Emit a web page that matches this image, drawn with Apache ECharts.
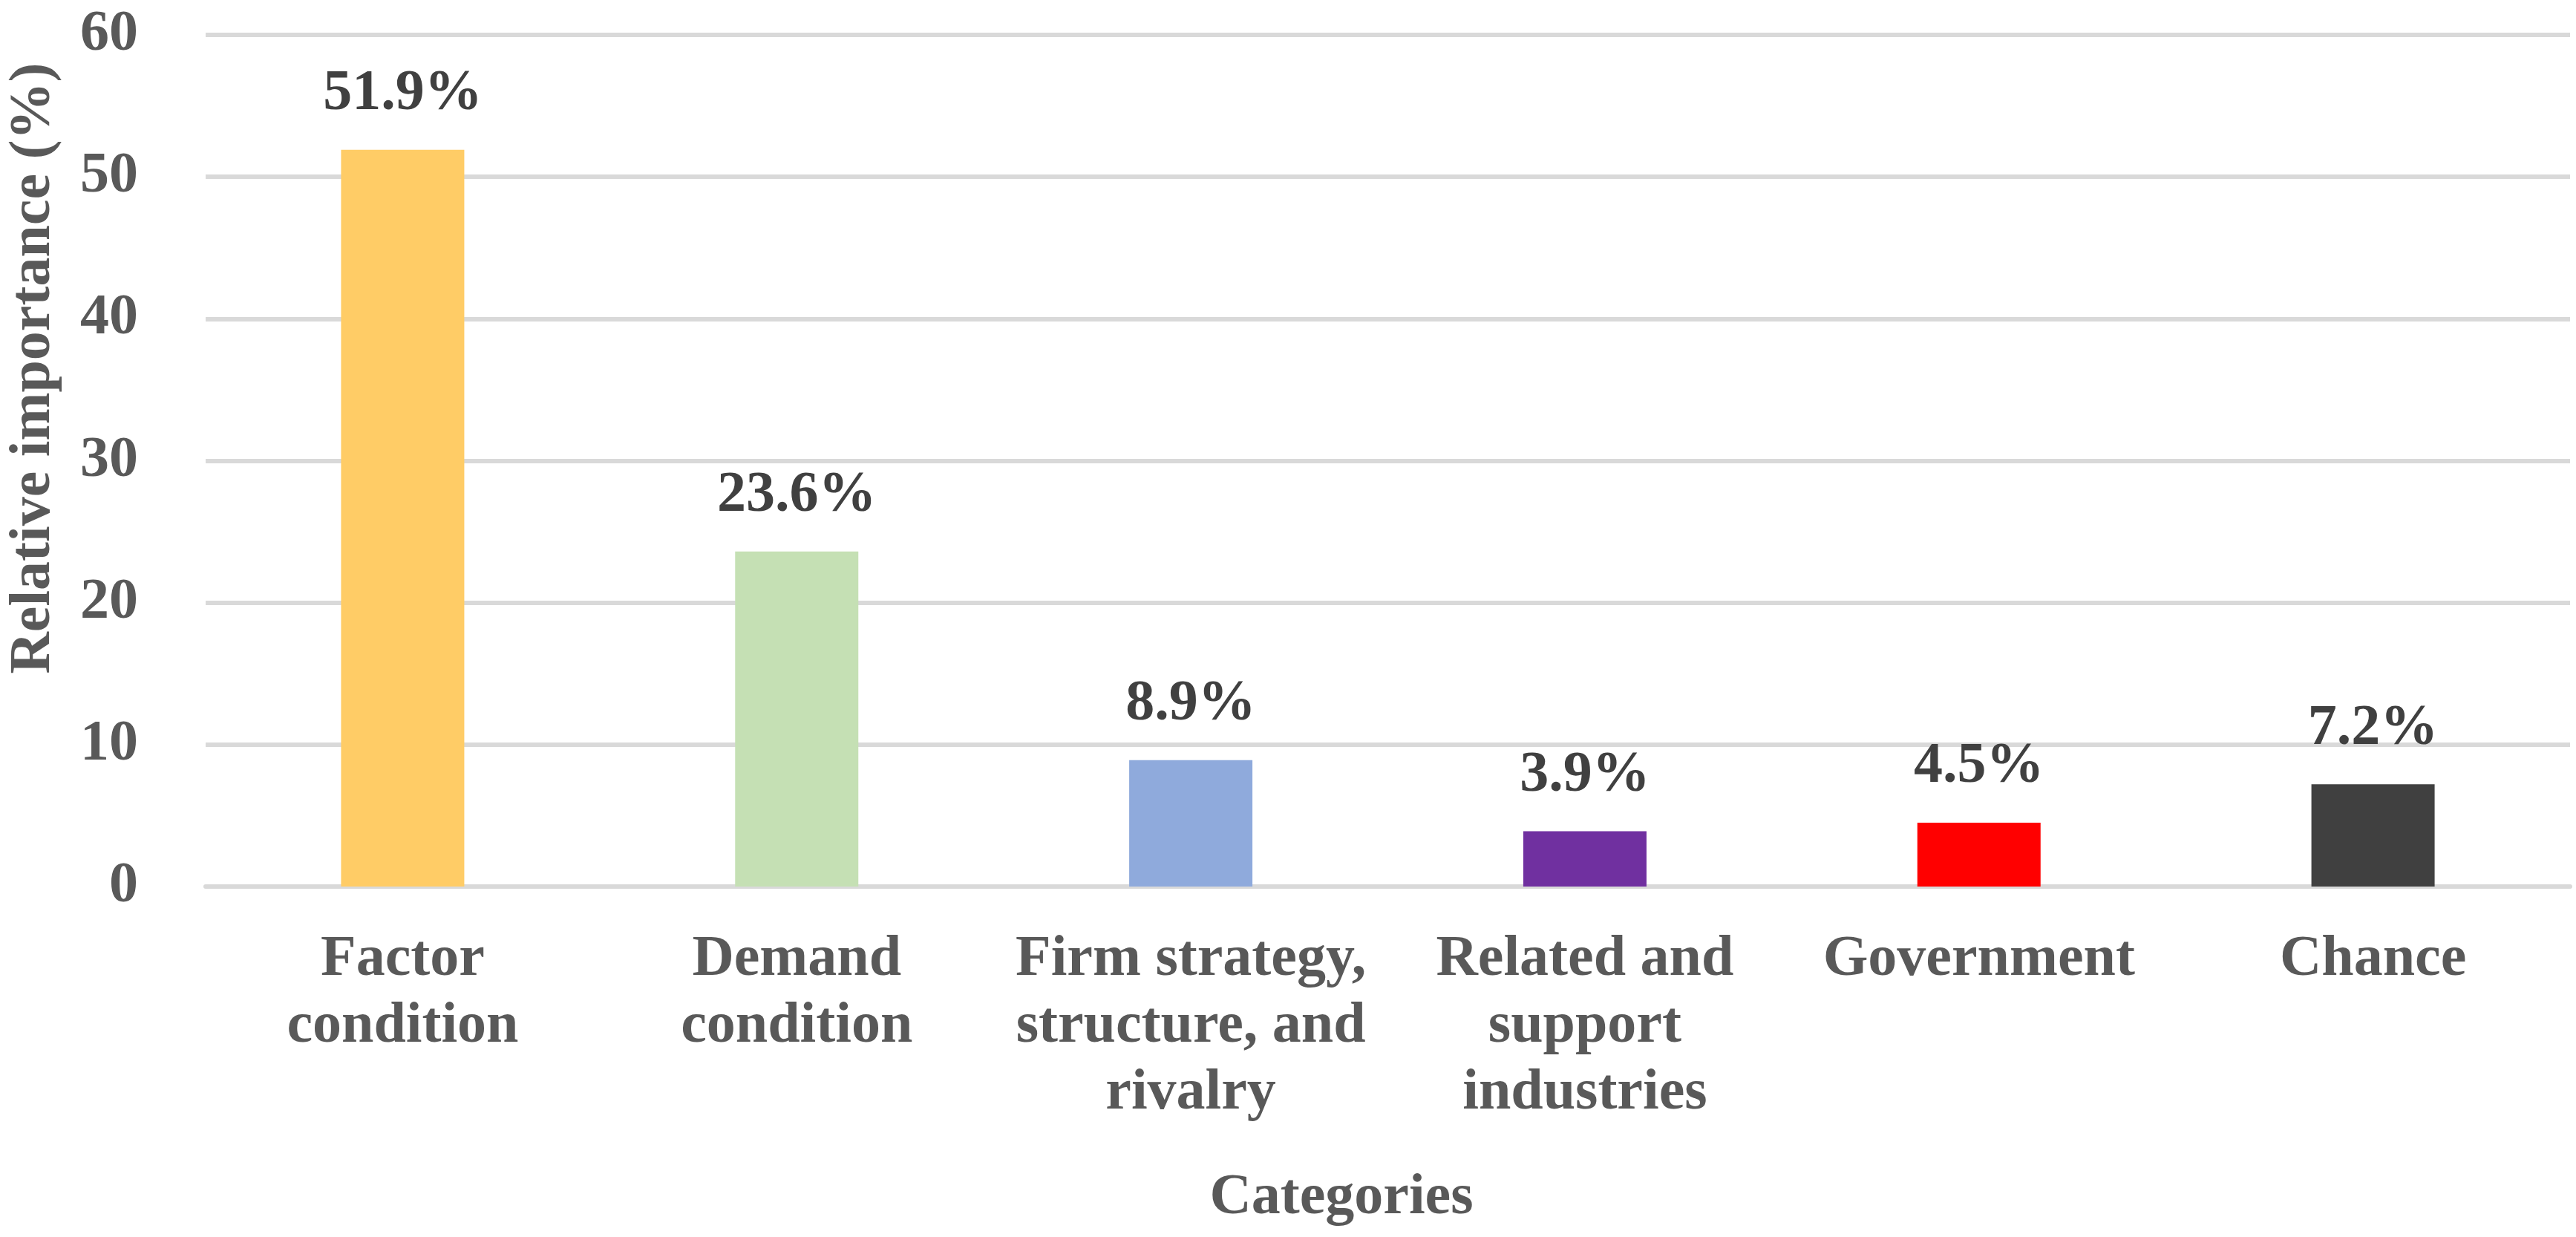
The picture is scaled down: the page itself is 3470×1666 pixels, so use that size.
<!DOCTYPE html>
<html>
<head>
<meta charset="utf-8">
<script src="https://cdn.jsdelivr.net/npm/echarts@6/dist/echarts.min.js"></script>
<style>
html,body{margin:0;padding:0;background:#fff;}
#c{width:3470px;height:1666px;}
</style>
</head>
<body>
<div id="c"></div>
<script>
const categories = ["Factor\ncondition", "Demand\ncondition", "Firm strategy,\nstructure, and\nrivalry", "Related and\nsupport\nindustries", "Government", "Chance"];
const values = [51.9, 23.6, 8.9, 3.9, 4.5, 7.2];
const barColors = ["#FFCC66", "#C5E0B4", "#8FAADC", "#7030A0", "#FF0000", "#404040"];
const yTicks = [0, 10, 20, 30, 40, 50, 60];
const yTitle = "Relative importance (%)";
const xTitle = "Categories";

const FONT = "'Liberation Serif', 'Times New Roman', serif";
const chart = echarts.init(document.getElementById('c'));
chart.setOption({
  animation: false,
  backgroundColor: '#ffffff',
  grid: { left: 277, right: 8, top: 47, bottom: 472, containLabel: false },
  xAxis: {
    type: 'category',
    data: categories,
    axisTick: { show: false },
    axisLine: { show: true, lineStyle: { color: '#D9D9D9', width: 6 } },
    axisLabel: {
      interval: 0, margin: 54,
      color: '#595959', fontFamily: FONT, fontWeight: 'bold', fontSize: 78, lineHeight: 90
    }
  },
  yAxis: {
    type: 'value',
    min: yTicks[0], max: yTicks[yTicks.length - 1], interval: 10,
    axisLine: { show: false },
    axisTick: { show: false },
    splitLine: { show: true, lineStyle: { color: '#D9D9D9', width: 6 } },
    axisLabel: { margin: 91, color: '#595959', fontFamily: FONT, fontWeight: 'bold', fontSize: 78 }
  },
  graphic: [
    {
      type: 'text', x: 46, y: 496, rotation: Math.PI / 2,
      style: { text: yTitle, fill: '#595959', font: "bold 78px " + FONT, textAlign: 'center', textVerticalAlign: 'middle' }
    },
    {
      type: 'text', x: 1807, y: 1614,
      style: { text: xTitle, fill: '#595959', font: "bold 78px " + FONT, textAlign: 'center', textVerticalAlign: 'middle' }
    }
  ],
  series: [{
    type: 'bar',
    barWidth: 166,
    data: values.map((v, i) => ({ value: v, itemStyle: { color: barColors[i] } })),
    label: {
      show: true, position: 'top', distance: 36,
      formatter: p => p.value.toFixed(1) + '%',
      color: '#404040', fontFamily: FONT, fontWeight: 'bold', fontSize: 78, lineHeight: 78
    }
  }]
});
</script>
</body>
</html>
